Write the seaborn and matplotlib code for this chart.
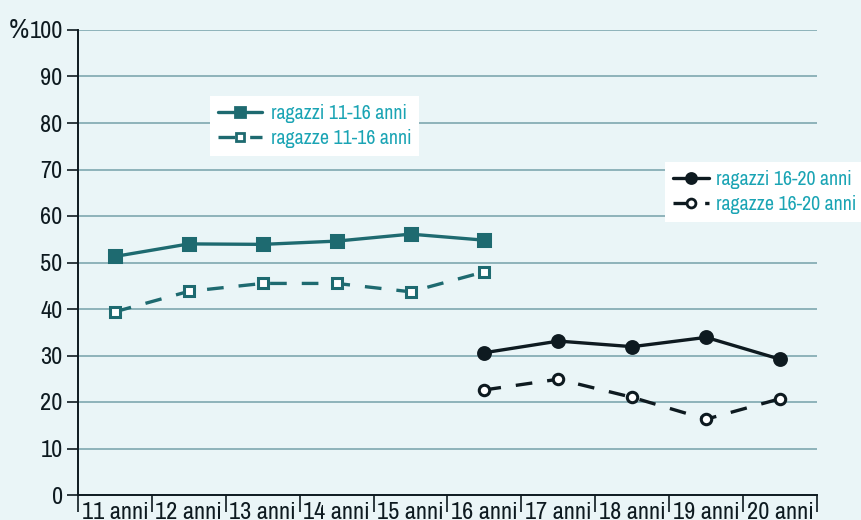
import matplotlib
matplotlib.use("Agg")
import matplotlib.pyplot as plt
from matplotlib.lines import Line2D
from matplotlib.ticker import FixedLocator, NullFormatter
import seaborn as sns
import pandas as pd
from matplotlib import font_manager

categories = ["11 anni", "12 anni", "13 anni", "14 anni", "15 anni",
              "16 anni", "17 anni", "18 anni", "19 anni", "20 anni"]
ages_young = ["11 anni", "12 anni", "13 anni", "14 anni", "15 anni", "16 anni"]
ages_old = ["16 anni", "17 anni", "18 anni", "19 anni", "20 anni"]
ragazzi_11_16 = [51.3, 54.0, 53.9, 54.6, 56.1, 54.8]
ragazze_11_16 = [39.4, 43.8, 45.5, 45.5, 43.7, 48.0]
ragazzi_16_20 = [30.6, 33.1, 31.9, 33.9, 29.2]
ragazze_16_20 = [22.6, 24.9, 21.0, 16.3, 20.7]
y_ticks = [0, 10, 20, 30, 40, 50, 60, 70, 80, 90, 100]

sns.set_theme(style="white")

# pick a condensed face if one is installed
fonts = font_manager.fontManager.ttflist
narrow_names = [f.name for f in fonts if ("Narrow" in f.name or "Condensed" in f.name)]
condensed_dejavu = any(f.name == "DejaVu Sans" and f.stretch in ("condensed", "semi-condensed", 500, 300)
                       for f in fonts)
scale = 1.0
if narrow_names:
    plt.rcParams["font.family"] = [narrow_names[0], "DejaVu Sans"]
elif condensed_dejavu:
    plt.rcParams["font.family"] = ["DejaVu Sans"]
    plt.rcParams["font.stretch"] = "condensed"
else:
    plt.rcParams["font.family"] = ["Roboto", "DejaVu Sans"]
    scale = 0.85

BG = "#eaf5f7"
TEAL = "#1e6a70"
BLACK = "#0e1a20"
GRID = "#7ea8b0"
LEG_TXT = "#1aa4b4"

fig = plt.figure(figsize=(8.62, 5.2), dpi=100, facecolor=BG)
ax = fig.add_axes([78/862, 1-495/520, (817-78)/862, (495-30)/520])
ax.set_facecolor(BG)

rows = []
for a, v in zip(ages_young, ragazzi_11_16):
    rows.append(("ragazzi 11-16 anni", categories.index(a), v))
for a, v in zip(ages_young, ragazze_11_16):
    rows.append(("ragazze 11-16 anni", categories.index(a), v))
for a, v in zip(ages_old, ragazzi_16_20):
    rows.append(("ragazzi 16-20 anni", categories.index(a), v))
for a, v in zip(ages_old, ragazze_16_20):
    rows.append(("ragazze 16-20 anni", categories.index(a), v))
df = pd.DataFrame(rows, columns=["serie", "pos", "val"])

dash = (5, 4.5)
styles = {
    "ragazzi 11-16 anni": dict(color=TEAL, ls="-", marker="s", mfc=TEAL, ms=9),
    "ragazze 11-16 anni": dict(color=TEAL, ls=(0, dash), marker="s", mfc="white", ms=7.5),
    "ragazzi 16-20 anni": dict(color=BLACK, ls="-", marker="o", mfc=BLACK, ms=8.5),
    "ragazze 16-20 anni": dict(color=BLACK, ls=(0, dash), marker="o", mfc="white", ms=7.5),
}
handles = {}
for name, st in styles.items():
    sub = df[df["serie"] == name]
    sns.lineplot(data=sub, x="pos", y="val", ax=ax, color=st["color"],
                 linestyle=st["ls"], linewidth=2.4, marker=st["marker"],
                 markersize=st["ms"], markerfacecolor=st["mfc"],
                 markeredgecolor=st["color"], markeredgewidth=2.2,
                 legend=False, zorder=3)
    handles[name] = Line2D([], [], color=st["color"], linestyle=st["ls"], linewidth=2.4,
                           marker=st["marker"], markersize=st["ms"] * 0.85,
                           markerfacecolor=st["mfc"], markeredgecolor=st["color"],
                           markeredgewidth=2.0)

ax.set_xlim(-0.5, 9.5)
ax.set_ylim(0, 100)
ax.set_yticks(y_ticks)
ax.set_yticklabels([str(t) for t in y_ticks], fontsize=17.5 * scale, color=BLACK)
ax.yaxis.grid(True, color=GRID, linewidth=1.2)
ax.xaxis.grid(False)
ax.set_axisbelow(True)
ax.tick_params(axis="y", length=8, width=1.2, color=BLACK, pad=3, left=True)

ax.set_xticks(range(len(categories)))
ax.set_xticklabels(categories, fontsize=17.5 * scale, color=BLACK)
ax.tick_params(axis="x", which="major", length=0, pad=5)
ax.xaxis.set_minor_locator(FixedLocator([i - 0.5 for i in range(len(categories) + 1)]))
ax.xaxis.set_minor_formatter(NullFormatter())
ax.tick_params(axis="x", which="minor", length=12, width=1.2, color=BLACK, bottom=True)
ax.set_xlabel("")
ax.set_ylabel("")

for s in ["top", "right"]:
    ax.spines[s].set_visible(False)
for s in ["left", "bottom"]:
    ax.spines[s].set_color(BLACK)
    ax.spines[s].set_linewidth(1.4)

fig.text(9/862, 1-30/520, "%", fontsize=20 * scale, color=BLACK, va="center", ha="left")

leg_fs = 14.3 * scale
leg1 = ax.legend([handles["ragazzi 11-16 anni"], handles["ragazze 11-16 anni"]],
                 ["ragazzi 11-16 anni", "ragazze 11-16 anni"],
                 loc="upper left", bbox_to_anchor=(210/862, 1-96/520),
                 bbox_transform=fig.transFigure, frameon=True, fancybox=False,
                 facecolor="white", edgecolor="white", framealpha=1,
                 fontsize=leg_fs, handlelength=2.2, handletextpad=0.45,
                 borderpad=0.4, borderaxespad=0, labelspacing=0.3,
                 labelcolor=LEG_TXT)
ax.add_artist(leg1)
leg2 = ax.legend([handles["ragazzi 16-20 anni"], handles["ragazze 16-20 anni"]],
                 ["ragazzi 16-20 anni", "ragazze 16-20 anni"],
                 loc="upper left", bbox_to_anchor=(665/862, 1-162/520),
                 bbox_transform=fig.transFigure, frameon=True, fancybox=False,
                 facecolor="white", edgecolor="white", framealpha=1,
                 fontsize=leg_fs, handlelength=1.8, handletextpad=0.35,
                 borderpad=0.4, borderaxespad=0, labelspacing=0.3,
                 labelcolor=LEG_TXT)
for lg in (leg1, leg2):
    lg.get_frame().set_linewidth(0)

fig.savefig("out.png", dpi=100, facecolor=BG)
